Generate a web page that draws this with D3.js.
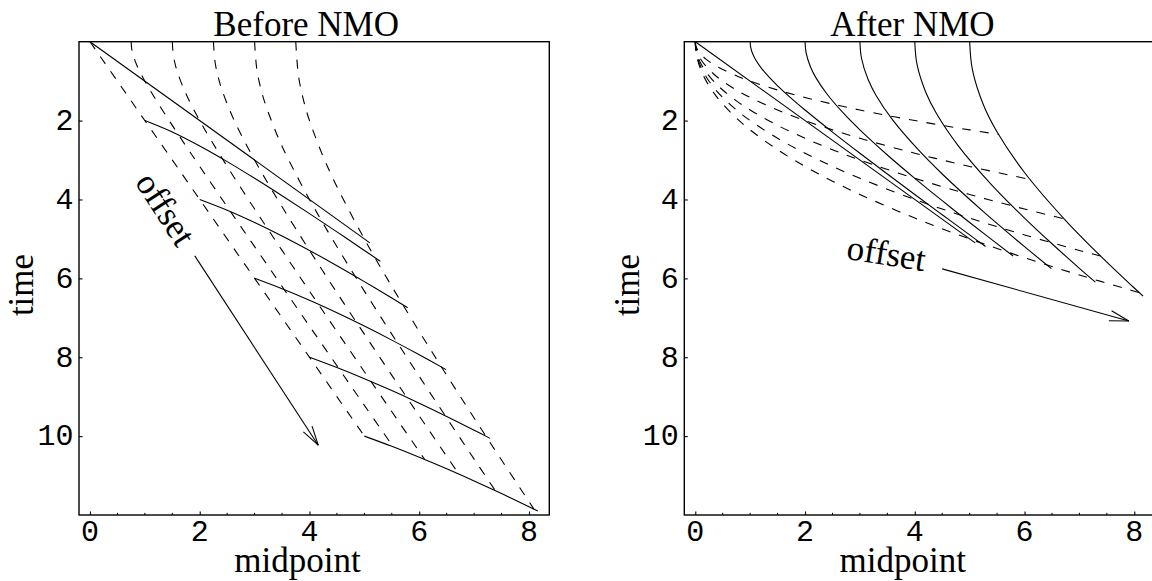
<!DOCTYPE html>
<html>
<head>
<meta charset="utf-8">
<script src="https://cdn.jsdelivr.net/npm/d3@7"></script>
<style>
  html, body { margin: 0; padding: 0; background: #fff; }
  svg { display: block; }
  .serif { font-family: "Liberation Serif", "Times New Roman", serif; fill: #000; }
  .mono { font-family: "Liberation Mono", "Courier New", monospace; fill: #000; }
</style>
</head>
<body>
<svg id="chart" width="1152" height="581"></svg>
<script>
// Axis ticks (midpoint, time)
const xMajorTicks = [0, 2, 4, 6, 8];
const xMinorTicks = [0.5, 1, 1.5, 2.5, 3, 3.5, 4.5, 5, 5.5, 6.5, 7, 7.5];
const yTicks = [2, 4, 6, 8, 10];
const panelTitles = ["Before NMO", "After NMO"];

// Before NMO: constant-offset traces (midpoint, time), half offsets 0..5
const beforeOffsetCurves = [
  [[0, 0], [5.1, 5.1]],
  [[1, 2], [1.5, 2.291], [2, 2.646], [2.5, 3.041], [3, 3.464], [3.5, 3.905], [4, 4.359], [4.5, 4.822], [5, 5.292], [5.29, 5.566]],
  [[2, 4], [2.5, 4.272], [3, 4.583], [3.5, 4.924], [4, 5.292], [4.5, 5.679], [5, 6.083], [5.5, 6.5], [5.79, 6.747]],
  [[3, 6], [3.5, 6.265], [4, 6.557], [4.5, 6.874], [5, 7.211], [5.5, 7.566], [6, 7.937], [6.49, 8.314]],
  [[4, 8], [4.5, 8.261], [5, 8.544], [5.5, 8.846], [6, 9.165], [6.5, 9.5], [7, 9.849], [7.29, 10.057]],
  [[5, 10], [5.5, 10.259], [6, 10.536], [6.5, 10.828], [7, 11.136], [7.5, 11.456], [8, 11.79], [8.16, 11.899]]
];

// Before NMO: common-reflection-point traces (dashed)
const beforeReflectionCurves = [
  [[0, 0], [5, 10]],
  [[0.75, 0], [0.76, 0.174], [0.78, 0.306], [0.8, 0.4], [0.85, 0.583], [0.9, 0.735], [1, 1], [1.1, 1.241], [1.25, 1.581], [1.5, 2.121], [1.75, 2.646], [2, 3.162], [2.5, 4.183], [3, 5.196], [4, 7.211], [5, 9.22], [5.525, 10.27]],
  [[1.5, 0], [1.52, 0.348], [1.56, 0.612], [1.6, 0.8], [1.7, 1.166], [1.8, 1.47], [2, 2], [2.2, 2.482], [2.5, 3.162], [3, 4.243], [3.5, 5.292], [4, 6.325], [5, 8.367], [6, 10.392], [6.1, 10.594]],
  [[2.25, 0], [2.28, 0.522], [2.34, 0.918], [2.4, 1.2], [2.55, 1.749], [2.7, 2.205], [3, 3], [3.3, 3.723], [3.75, 4.743], [4.5, 6.364], [5.25, 7.937], [6, 9.487], [6.72, 10.96]],
  [[3, 0], [3.04, 0.696], [3.12, 1.224], [3.2, 1.6], [3.4, 2.332], [3.6, 2.94], [4, 4], [4.4, 4.964], [5, 6.324], [6, 8.485], [7, 10.583], [7.385, 11.38]],
  [[3.75, 0], [3.8, 0.87], [3.9, 1.53], [4, 2], [4.25, 2.915], [4.5, 3.675], [5, 5], [5.5, 6.205], [6.25, 7.905], [7, 9.54], [7.5, 10.607], [8.09, 11.85]]
];

// After NMO: constant-offset traces
const afterOffsetCurves = [
  [[0, 0], [5.1, 5.1]],
  [[1, 0], [1.01, 0.142], [1.05, 0.32], [1.1, 0.458], [1.2, 0.663], [1.35, 0.907], [1.5, 1.118], [1.75, 1.436], [2, 1.732], [2.5, 2.291], [3, 2.828], [3.5, 3.354], [4, 3.873], [4.5, 4.387], [5, 4.899], [5.29, 5.194]],
  [[2, 0], [2.02, 0.284], [2.1, 0.64], [2.2, 0.917], [2.4, 1.327], [2.7, 1.814], [3, 2.236], [3.5, 2.872], [4, 3.464], [4.5, 4.031], [5, 4.583], [5.79, 5.433]],
  [[3, 0], [3.03, 0.426], [3.15, 0.96], [3.3, 1.375], [3.6, 1.99], [4.05, 2.72], [4.5, 3.354], [5.25, 4.308], [6, 5.196], [6.49, 5.755]],
  [[4, 0], [4.04, 0.568], [4.2, 1.28], [4.4, 1.833], [4.8, 2.653], [5.4, 3.628], [6, 4.472], [6.5, 5.123], [7, 5.745], [7.29, 6.094]],
  [[5, 0], [5.05, 0.71], [5.25, 1.6], [5.5, 2.291], [6, 3.317], [6.75, 4.535], [7.5, 5.59], [8, 6.245], [8.16, 6.449]]
];

// After NMO: common-reflection-point traces (dashed)
const afterReflectionCurves = [
  [[0, 0], [0.01, 0.1], [0.04, 0.2], [0.1, 0.316], [0.2, 0.447], [0.35, 0.592], [0.5, 0.707], [0.75, 0.866], [1, 1], [1.5, 1.225], [2, 1.414], [2.5, 1.581], [3, 1.732], [4, 2], [5, 2.236], [5.525, 2.351]],
  [[0, 0], [0.01, 0.141], [0.04, 0.283], [0.1, 0.447], [0.2, 0.632], [0.35, 0.837], [0.5, 1], [0.75, 1.225], [1, 1.414], [1.5, 1.732], [2, 2], [2.5, 2.236], [3, 2.449], [4, 2.828], [5, 3.162], [6.1, 3.493]],
  [[0, 0], [0.01, 0.173], [0.04, 0.346], [0.1, 0.548], [0.2, 0.775], [0.35, 1.025], [0.5, 1.225], [0.75, 1.5], [1, 1.732], [1.5, 2.121], [2, 2.449], [2.5, 2.739], [3, 3], [4, 3.464], [5, 3.873], [6, 4.243], [6.72, 4.49]],
  [[0, 0], [0.01, 0.2], [0.04, 0.4], [0.1, 0.632], [0.2, 0.894], [0.35, 1.183], [0.5, 1.414], [0.75, 1.732], [1, 2], [1.5, 2.449], [2, 2.828], [2.5, 3.162], [3, 3.464], [4, 4], [5, 4.472], [6, 4.899], [7, 5.292], [7.385, 5.435]],
  [[0, 0], [0.01, 0.224], [0.04, 0.447], [0.1, 0.707], [0.2, 1], [0.35, 1.323], [0.5, 1.581], [0.75, 1.936], [1, 2.236], [1.5, 2.739], [2, 3.162], [2.5, 3.536], [3, 3.873], [4, 4.472], [5, 5], [6, 5.477], [7, 5.916], [8, 6.325], [8.09, 6.36]]
];

// Offset-direction arrows: [tail, head]
const beforeArrow = [[1.91, 5.43], [4.16, 10.23]];
const afterArrow = [[4.5, 5.76], [7.9, 7.08]];

const svg = d3.select("#chart");

function drawPanel(spec) {
  const x = d3.scaleLinear().domain([-0.2, 8.37]).range([spec.left, spec.left + 470.3]);
  const y = d3.scaleLinear().domain([0, 12]).range([41.7, 515]);
  const g = svg.append("g");

  const line = d3.line()
    .x(d => x(d[0]))
    .y(d => y(d[1]))
    .curve(d3.curveCatmullRom.alpha(0.5));

  // dashed reflection-point traces
  g.selectAll("path.crp").data(spec.dashed).join("path")
    .attr("class", "crp")
    .attr("d", line)
    .attr("fill", "none")
    .attr("stroke", "#000")
    .attr("stroke-width", 1.1)
    .attr("stroke-dasharray", "9,9");

  // solid constant-offset traces
  g.selectAll("path.off").data(spec.solid).join("path")
    .attr("class", "off")
    .attr("d", line)
    .attr("fill", "none")
    .attr("stroke", "#000")
    .attr("stroke-width", 1.1);

  // offset arrow
  const [a0, a1] = spec.arrow;
  const p0 = [x(a0[0]), y(a0[1])], p1 = [x(a1[0]), y(a1[1])];
  g.append("line")
    .attr("x1", p0[0]).attr("y1", p0[1]).attr("x2", p1[0]).attr("y2", p1[1])
    .attr("stroke", "#000").attr("stroke-width", 1.1);
  const ang = Math.atan2(p1[1] - p0[1], p1[0] - p0[0]);
  [-1, 1].forEach(s => {
    const b = ang + Math.PI + s * 15 * Math.PI / 180;
    g.append("line")
      .attr("x1", p1[0]).attr("y1", p1[1])
      .attr("x2", p1[0] + 20 * Math.cos(b)).attr("y2", p1[1] + 20 * Math.sin(b))
      .attr("stroke", "#000").attr("stroke-width", 1.1);
  });

  // frame
  g.append("rect")
    .attr("x", x.range()[0]).attr("y", 41.7)
    .attr("width", x.range()[1] - x.range()[0]).attr("height", 515 - 41.7)
    .attr("fill", "none").attr("stroke", "#000").attr("stroke-width", 1.4);

  // bottom ticks (inward)
  const xAxis = d3.axisBottom(x).tickValues(xMajorTicks).tickSize(-3.5).tickPadding(8).tickSizeOuter(0);
  const ax = g.append("g").attr("transform", "translate(0,515)").call(xAxis);
  ax.select(".domain").remove();
  ax.selectAll(".tick line").attr("stroke", "#000").attr("stroke-width", 1.1);
  ax.selectAll(".tick text").remove();
  g.selectAll("text.xl").data(xMajorTicks).join("text")
    .attr("class", "xl mono")
    .attr("x", d => x(d)).attr("y", 540.5)
    .attr("text-anchor", "middle")
    .style("font-size", "30px")
    .text(d => d);
  g.selectAll("line.xminor").data(xMinorTicks).join("line")
    .attr("class", "xminor")
    .attr("x1", d => x(d)).attr("x2", d => x(d))
    .attr("y1", 515).attr("y2", 512.8)
    .attr("stroke", "#000").attr("stroke-width", 1);

  // left ticks (inward)
  const yAxis = d3.axisLeft(y).tickValues(yTicks).tickSize(-3.5).tickSizeOuter(0);
  const ay = g.append("g").attr("transform", `translate(${x.range()[0]},0)`).call(yAxis);
  ay.select(".domain").remove();
  ay.selectAll(".tick line").attr("stroke", "#000").attr("stroke-width", 1.1);
  ay.selectAll(".tick text").remove();
  g.selectAll("text.yl").data(yTicks).join("text")
    .attr("class", "yl mono")
    .attr("x", x.range()[0] - 5.5).attr("y", d => y(d) + 9.3)
    .attr("text-anchor", "end")
    .style("font-size", "30px")
    .text(d => d);

  // titles and axis labels
  g.append("text").attr("class", "serif")
    .attr("x", spec.titleX).attr("y", 36)
    .attr("text-anchor", "middle").style("font-size", "35px")
    .text(spec.title);
  g.append("text").attr("class", "serif")
    .attr("x", spec.xLabelX).attr("y", 571.5)
    .attr("text-anchor", "middle").style("font-size", "35px")
    .text("midpoint");
  g.append("text").attr("class", "serif")
    .attr("transform", `translate(${x.range()[0] - 45.6},285) rotate(-90)`)
    .attr("text-anchor", "middle").style("font-size", "35px")
    .text("time");
  g.append("text").attr("class", "serif")
    .attr("transform", `translate(${spec.offsetPos[0]},${spec.offsetPos[1]}) rotate(${spec.offsetAngle})`)
    .attr("text-anchor", "middle").style("font-size", "35px")
    .text("offset");
}

drawPanel({
  left: 79, title: panelTitles[0], titleX: 306.2, xLabelX: 297.5,
  solid: beforeOffsetCurves, dashed: beforeReflectionCurves, arrow: beforeArrow,
  offsetPos: [155.8, 215.4], offsetAngle: 57
});
drawPanel({
  left: 684.3, title: panelTitles[1], titleX: 912.5, xLabelX: 902.7,
  solid: afterOffsetCurves, dashed: afterReflectionCurves, arrow: afterArrow,
  offsetPos: [884.5, 265], offsetAngle: 9
});
</script>
</body>
</html>
